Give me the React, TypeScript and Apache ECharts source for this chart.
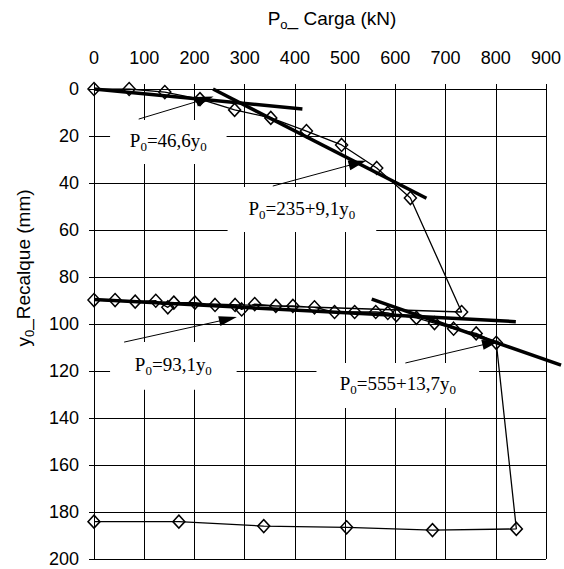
import React, { useEffect, useRef } from "react";
import * as echarts from "echarts";

// Measured load test curve (load kN, settlement mm)
const curveLoad = [0, 70, 141, 211, 280, 352, 423, 493, 563, 630, 732,
  0, 42, 82, 123, 147, 159, 201, 241, 281, 294, 320, 362, 396, 439, 479, 519, 561, 585, 602, 642, 678, 716, 761, 801,
  841, 674, 503, 338, 169, 0];
const curveSettle = [0, 0, 1.3, 4.3, 8.9, 12.3, 17.9, 23.8, 33.6, 46.4, 94.9,
  89.8, 89.8, 90.5, 90.1, 92.9, 90.9, 90.9, 91.9, 91.9, 93.8, 91.5, 92.3, 92.3, 92.9, 94.9, 94.9, 94.9, 95.3, 96.2, 97.4, 99.6, 102, 104, 108,
  187.2, 187.7, 186.5, 186, 184.1, 184.1];

// Fitted straight lines (endpoints)
const trend1Load = [0, 415];
const trend1Settle = [0, 8.5];
const trend2Load = [237, 662];
const trend2Settle = [0, 46.5];
const trend3Load = [0, 840];
const trend3Settle = [89.6, 99];
const trend4Load = [553, 930];
const trend4Settle = [89.4, 117.5];

// Annotation texts
const eqTexts = ["{a|P}{s|0}{a|=46,6y}{s|0}", "{a|P}{s|0}{a|=235+9,1y}{s|0}", "{a|P}{s|0}{a|=93,1y}{s|0}", "{a|P}{s|0}{a|=555+13,7y}{s|0}"];
// label boxes [load1, settle1, load2, settle2]
const boxLoad1 = [32, 266, 32, 443];
const boxLoad2 = [264, 562, 284, 767];
const boxSettle1 = [13.2, 41.7, 107.7, 116.6];
const boxSettle2 = [31.9, 60.9, 128, 135.7];
// arrows: start -> tip
const arrowStartLoad = [89, 356, 60, 620];
const arrowStartSettle = [12.8, 41.3, 107.7, 116.6];
const arrowTipLoad = [221, 525, 267, 791];
const arrowTipSettle = [4.3, 31.5, 97.9, 108];

const xTicks = { min: 0, max: 900, interval: 100 };
const yTicks = { min: 0, max: 200, interval: 20 };

const zip = (a: number[], b: number[]) => a.map((v, i) => [v, b[i]]);

export default function App() {
  const ref = useRef<HTMLDivElement>(null);
  useEffect(() => {
    if (!ref.current) return;
    const chart = echarts.init(ref.current, null, { renderer: "svg" });
    const sans = "Liberation Sans";
    const serif = "Liberation Serif";
    const richEq = {
      a: { fontFamily: serif, fontSize: 19, color: "#000", lineHeight: 22, verticalAlign: "bottom" },
      s: { fontFamily: serif, fontSize: 13, color: "#000", lineHeight: 16, verticalAlign: "bottom", padding: [0, 0, -3, 0] },
    };
    const trendLines = [
      [trend1Load, trend1Settle],
      [trend2Load, trend2Settle],
      [trend3Load, trend3Settle],
      [trend4Load, trend4Settle],
    ];
    const titleRich = {
      a: { fontFamily: sans, fontSize: 19, fill: "#000", lineHeight: 22, verticalAlign: "bottom" },
      s: { fontFamily: sans, fontSize: 13, fill: "#000", lineHeight: 14, verticalAlign: "bottom", padding: [0, 0, -3, 0] },
    };
    const option: any = {
      animation: false,
      backgroundColor: "#fff",
      grid: { left: 94, top: 89, width: 453, height: 470, containLabel: false },
      xAxis: {
        type: "value",
        position: "top",
        ...xTicks,
        axisLine: { show: true, lineStyle: { color: "#000", width: 1 } },
        axisTick: { show: true, inside: false, length: 5, lineStyle: { color: "#000" } },
        axisLabel: { fontFamily: sans, fontSize: 18, color: "#000", margin: 22 },
        splitLine: { show: true, lineStyle: { color: "#000", width: 1 } },
      },
      yAxis: {
        type: "value",
        inverse: true,
        ...yTicks,
        axisLine: { show: true, lineStyle: { color: "#000", width: 1 } },
        axisTick: { show: true, inside: false, length: 5, lineStyle: { color: "#000" } },
        axisLabel: { fontFamily: sans, fontSize: 18, color: "#000", margin: 15 },
        splitLine: { show: true, lineStyle: { color: "#000", width: 1 } },
      },
      graphic: [
        {
          type: "text",
          x: 332,
          y: 17,
          style: {
            text: "{a|P}{s|o}{a|_ Carga (kN)}",
            align: "center",
            verticalAlign: "middle",
            rich: titleRich,
          },
        },
        {
          type: "text",
          x: 22,
          y: 268,
          rotation: Math.PI / 2,
          style: {
            text: "{a|y}{s|0}{a|_Recalque (mm)}",
            align: "center",
            verticalAlign: "middle",
            rich: titleRich,
          },
        },
      ],
      series: [
        {
          type: "line",
          data: [],
          z: 1,
          silent: true,
          markArea: {
            silent: true,
            itemStyle: { color: "#fff", borderWidth: 0 },
            label: { show: true, position: "inside", offset: [0, -3], formatter: (p: any) => p.name, rich: richEq },
            data: eqTexts.map((t, i) => [
              { name: t, coord: [boxLoad1[i], boxSettle1[i]] },
              { coord: [boxLoad2[i], boxSettle2[i]] },
            ]),
          },
        },
        {
          type: "line",
          data: zip(curveLoad, curveSettle),
          symbol: "diamond",
          symbolSize: [12, 13],
          itemStyle: { color: "rgba(0,0,0,0)", borderColor: "#000", borderWidth: 1.5 },
          lineStyle: { color: "#000", width: 1.3 },
          z: 3,
          silent: true,
        },
        {
          type: "custom",
          z: 4,
          clip: false,
          silent: true,
          encode: { x: [0, 2], y: [1, 3] },
          data: trendLines.map(([l, s]) => [l[0], s[0], l[1], s[1]]),
          renderItem: (_p: any, api: any) => {
            const a = api.coord([api.value(0), api.value(1)]);
            const b = api.coord([api.value(2), api.value(3)]);
            return {
              type: "line",
              shape: { x1: a[0], y1: a[1], x2: b[0], y2: b[1] },
              style: { stroke: "#000", lineWidth: 3.5, lineCap: "butt" },
            };
          },
        },
        {
          type: "line",
          data: [],
          z: 5,
          silent: true,
          markLine: {
            silent: true,
            symbol: ["none", "triangle"],
            symbolSize: [10, 18],
            label: { show: false },
            lineStyle: { color: "#000", width: 1, type: "solid" },
            itemStyle: { color: "#000" },
            data: arrowStartLoad.map((v, i) => [
              { coord: [v, arrowStartSettle[i]] },
              { coord: [arrowTipLoad[i], arrowTipSettle[i]] },
            ]),
          },
        },
      ],
    };
    chart.setOption(option);
    return () => chart.dispose();
  }, []);
  return <div ref={ref} style={{ width: 564, height: 569, position: "absolute", left: 0, top: 0 }} />;
}
